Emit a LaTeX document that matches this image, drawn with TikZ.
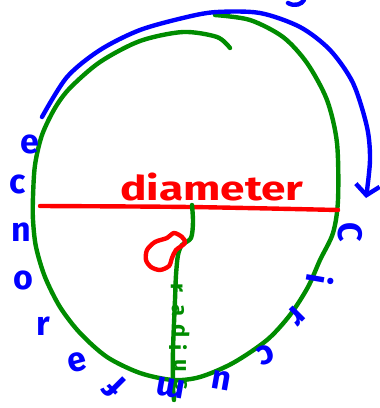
\documentclass[tikz,border=0pt]{standalone}
\usepackage{fontspec}
\setsansfont{Fira Sans}
\usetikzlibrary{arrows.meta}

\begin{document}
\begin{tikzpicture}[x=1pt,y=1pt,line cap=round,line join=round,
  ink/.style={line width=4.4pt},
  letter/.style={blue,inner sep=0pt,font=\sffamily\bfseries\fontsize{34}{34}\selectfont},
  radletter/.style={green!55!black,inner sep=0pt,font=\sffamily\bfseries\fontsize{22}{22}\selectfont}]
  \useasboundingbox (0,0) rectangle (380,-408);
  % outline of the circle, ending in an inner hook
  \draw[ink,green!55!black] plot[smooth] coordinates {
    (215,-15) (250,-20) (283,-37) (307,-63) (327,-100) (337,-143) (338,-200)
    (333,-233) (320,-260) (308,-287) (290,-315) (267,-340) (233,-363) (200,-377)
    (173,-380) (140,-373) (107,-357) (80,-333) (60,-307) (45,-277) (36,-247)
    (33,-220) (33,-197) (35,-165) (42,-135) (55,-108) (70,-88) (100,-62)
    (140,-41) (183,-32) (217,-37) (230,-48)};
  % diameter
  \draw[ink,red] plot[smooth] coordinates {(40,-206) (190,-207) (338,-210)};
  \node[red,anchor=base,xscale=1.3,font=\sffamily\bfseries\fontsize{34}{34}\selectfont] (diam) at (212,-200) {diameter};
  % radius
  \draw[ink,green!55!black] plot[smooth] coordinates {
    (192,-205) (193,-222) (191,-238) (182,-245) (178,-255) (176,-275)
    (175,-300) (173,-350) (173,-385) (174,-400)};
  \foreach \ch/\px/\py [count=\i] in {r/177/288,a/178/311,d/181/331,i/178/348,u/180/366,s/181/385}
    \node[radletter,rotate=-90] (rad\i) at (\px,-\py) {\ch};
  % centre blob
  \draw[ink,red] plot[smooth cycle] coordinates {
    (147,-250) (155,-242) (167,-238) (174,-233) (182,-237) (185,-243)
    (176,-250) (172,-258) (169,-266) (160,-270) (151,-267) (146,-260)};
  % arc arrow over the top
  \draw[ink,blue,-{Straight Barb[length=10pt,width=24pt]}] plot[smooth] coordinates {
    (42,-117) (67,-77) (100,-50) (140,-30) (187,-17) (217,-12) (260,-13)
    (300,-27) (330,-50) (353,-83) (367,-127) (370,-160) (366,-198)};
  \draw[ink,blue] (288,-3) .. controls (295,-7) and (302,-4) .. (304,0);
  % circumference, letter by letter
  \foreach \ch/\px/\py/\rot [count=\i] in {C/350/232/-90,i/320/280/-100,r/296/316/-135,
      c/266/355/-160,u/221/380/170,m/171/388/170,f/115/387/135,e/77/362/15,
      r/43/326/0,o/23/280/0,n/21/232/0,c/18/184/0,e/30/144/0}
    \node[letter,rotate=\rot] (circ\i) at (\px,-\py) {\ch};
\end{tikzpicture}
\end{document}
